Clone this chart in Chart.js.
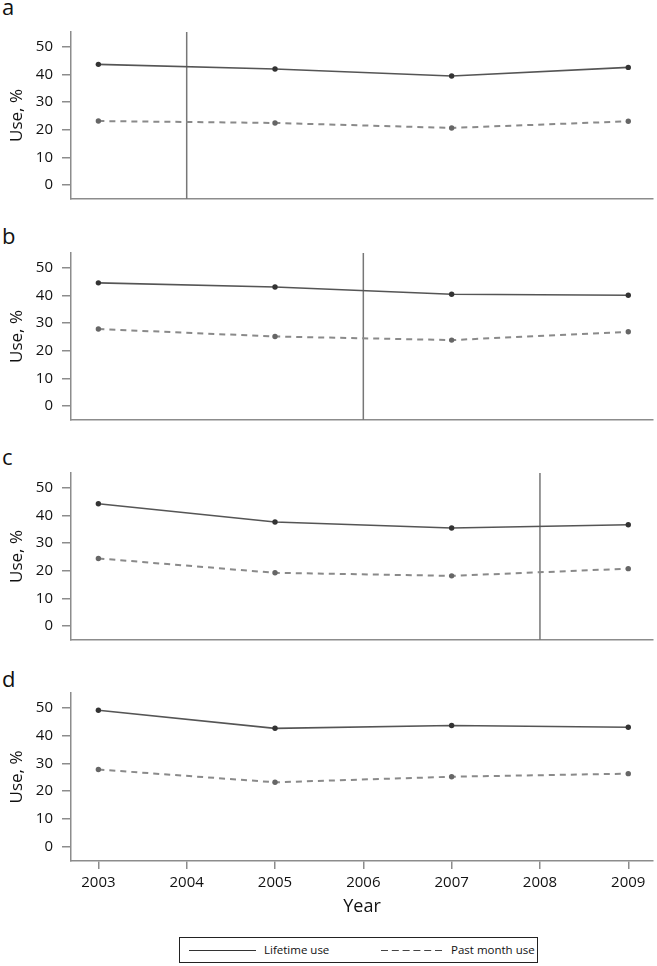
<!DOCTYPE html>
<html>
<head>
<meta charset="utf-8">
<script src="https://cdn.jsdelivr.net/npm/chart.js@4.4.1/dist/chart.umd.min.js"></script>
<style>
  html, body { margin: 0; padding: 0; background: #fff; }
  #wrap { position: relative; width: 657px; height: 966px; font-family: "Open Sans", sans-serif; color: #111; overflow: hidden; }
  .panel { position: absolute; left: 0; }
  .plabel { position: absolute; left: 2px; font-size: 22px; line-height: 22px; color: #111; }
  #legend { position: absolute; left: 179px; top: 937px; width: 357px; height: 24px; border: 1.5px solid #222; font-size: 11.5px; }
  .litem { position: absolute; top: 0; height: 24px; line-height: 24px; white-space: nowrap; }
  .litem svg { position: absolute; top: 0; left: 0; }
  .litem span { position: absolute; top: 0; }
</style>
</head>
<body>
<div id="wrap">
  <div class="plabel" style="top:-5px">a</div>
  <div class="plabel" style="top:224px">b</div>
  <div class="plabel" style="top:445px">c</div>
  <div class="plabel" style="top:667px">d</div>

  <canvas id="c0" class="panel" width="657" height="210" style="top:0px"></canvas>
  <canvas id="c1" class="panel" width="657" height="210" style="top:221px"></canvas>
  <canvas id="c2" class="panel" width="657" height="210" style="top:441px"></canvas>
  <canvas id="c3" class="panel" width="657" height="269" style="top:661px"></canvas>

  <div id="legend">
    <div class="litem" style="left:9px;width:150px">
      <svg width="70" height="24"><line x1="0" y1="12.5" x2="67" y2="12.5" stroke="#333" stroke-width="1.2"/></svg>
      <span id="lt1" style="left:75px"></span>
    </div>
    <div class="litem" style="left:201px;width:150px">
      <svg width="70" height="24"><line x1="0" y1="12.5" x2="64" y2="12.5" stroke="#444" stroke-width="1.2" stroke-dasharray="7 3.8"/></svg>
      <span id="lt2" style="left:70px"></span>
    </div>
  </div>
</div>
<script>
// ---- data ----
const years = [2003, 2005, 2007, 2009];
const xTickLabels = [2003, 2004, 2005, 2006, 2007, 2008, 2009];
const yTickValues = [0, 10, 20, 30, 40, 50];
const seriesNames = ['Lifetime use', 'Past month use'];
const panelLetters = ['a', 'b', 'c', 'd'];

const lifetimeA = [43.6, 41.9, 39.4, 42.5];
const pastMonthA = [23.1, 22.4, 20.6, 23.0];
const lifetimeB = [44.5, 43.0, 40.4, 40.0];
const pastMonthB = [27.8, 25.1, 23.8, 26.8];
const lifetimeC = [44.2, 37.6, 35.4, 36.6];
const pastMonthC = [24.4, 19.2, 18.1, 20.7];
const lifetimeD = [49.1, 42.6, 43.6, 43.0];
const pastMonthD = [27.8, 23.2, 25.2, 26.3];
const markerYears = [2004, 2006, 2008, null];

// ---- styling ----
const Y_MIN = -5.1, Y_MAX = 55.3;
const X_MIN = 2002.69, X_MAX = 2009.28;
const AXIS = '#8c8c8c';
const TEXT = '#111';
const FONT = '"Open Sans", sans-serif';

document.getElementById('lt1').textContent = seriesNames[0];
document.getElementById('lt2').textContent = seriesNames[1];

const panels = [
  [lifetimeA, pastMonthA],
  [lifetimeB, pastMonthB],
  [lifetimeC, pastMonthC],
  [lifetimeD, pastMonthD]
];

panels.forEach(([life, past], idx) => {
  const bottom = idx === 3;
  const datasets = [
    {
      label: seriesNames[0],
      data: years.map((y, i) => ({ x: y, y: life[i] })),
      borderColor: '#555', borderWidth: 1.6,
      pointRadius: 2.7, pointBackgroundColor: '#333', pointBorderWidth: 0,
      tension: 0
    },
    {
      label: seriesNames[1],
      data: years.map((y, i) => ({ x: y, y: past[i] })),
      borderColor: '#8a8a8a', borderWidth: 2, borderDash: [6, 5],
      pointRadius: 2.7, pointBackgroundColor: '#666', pointBorderWidth: 0,
      tension: 0
    }
  ];
  const m = markerYears[idx];
  if (m !== null) {
    datasets.push({
      label: 'marker',
      data: [{ x: m, y: Y_MIN }, { x: m, y: Y_MAX }],
      borderColor: '#777', borderWidth: 1.5, pointRadius: 0
    });
  }
  new Chart(document.getElementById('c' + idx), {
    type: 'line',
    data: { datasets },
    options: {
      responsive: false,
      animation: false,
      devicePixelRatio: 1,
      layout: { padding: { top: 32, bottom: bottom ? 12 : 11, left: 0, right: 2 } },
      plugins: { legend: { display: false }, tooltip: { enabled: false } },
      scales: {
        x: {
          type: 'linear', min: X_MIN, max: X_MAX,
          afterBuildTicks: s => { s.ticks = xTickLabels.map(v => ({ value: v })); },
          afterFit: s => { s.height = bottom ? 57 : 0; s.paddingLeft = 0; s.paddingRight = 0; },
          ticks: { display: bottom, color: TEXT, padding: 5, font: { family: FONT, size: 15 }, callback: v => String(v), maxRotation: 0, autoSkip: false },
          grid: { display: true, drawOnChartArea: false, drawTicks: bottom, tickLength: 8, color: AXIS, lineWidth: 1.5 },
          border: { display: true, color: AXIS, width: 1.5 },
          title: { display: bottom, text: 'Year', color: TEXT, font: { family: FONT, size: 18 }, padding: { top: 0, bottom: 0 } }
        },
        y: {
          min: Y_MIN, max: Y_MAX,
          afterBuildTicks: s => { s.ticks = yTickValues.map(v => ({ value: v })); },
          afterFit: s => { s.width = 71; s.paddingTop = 0; s.paddingBottom = 0; },
          ticks: { color: TEXT, padding: 9, font: { family: FONT, size: 15 } },
          grid: { display: true, drawOnChartArea: false, drawTicks: true, tickLength: 9, color: AXIS, lineWidth: 1.5 },
          border: { display: true, color: AXIS, width: 1.5 },
          title: { display: true, text: 'Use, %', color: TEXT, font: { family: FONT, size: 17 }, padding: { top: 7, bottom: 0 } }
        }
      }
    }
  });
});
</script>
</body>
</html>
